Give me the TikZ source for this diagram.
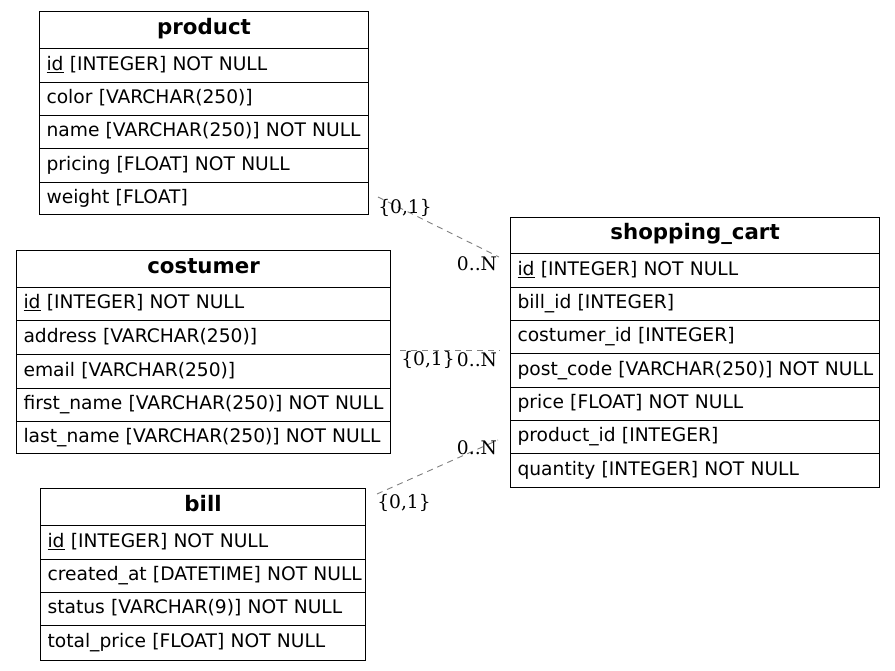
\documentclass[tikz,border=0pt]{standalone}
\usepackage{fontspec}
\setmainfont{DejaVu Sans}
\newfontfamily\labfont{DejaVu Serif}
\begin{document}
\begin{tikzpicture}[x=1pt,y=-1pt]
\tikzset{
  cell/.style={draw, line width=1.1pt, anchor=north west, inner xsep=7pt, inner ysep=0pt,
    align=left, font=\fontsize{18.67}{22}\selectfont, text height=13pt, text depth=4pt},
  head/.style={cell, align=center, font=\fontsize{21.33}{24}\selectfont\bfseries,
    text height=13pt, text depth=5pt},
  rel/.style={draw=gray, line width=0.9pt, dash pattern=on 6pt off 5pt},
  card/.style={font=\labfont\fontsize{18.67}{22}\selectfont, inner sep=0pt}
}
\useasboundingbox (0,0) rectangle (895,670);
\fill[white] (0,0) rectangle (895,670);

% product
\begin{scope}[every node/.append style={minimum width=329pt, text width=315pt}]
\node[head, minimum height=37pt] (product) at (39,11) {product};
\node[cell, minimum height=34pt] (product-id) at (39,48) {\underline{id} [INTEGER] NOT NULL};
\node[cell, minimum height=33pt] (product-color) at (39,82) {color [VARCHAR(250)]};
\node[cell, minimum height=33pt] (product-name) at (39,115) {\mbox{name [VARCHAR(250)] NOT NULL}};
\node[cell, minimum height=34pt] (product-pricing) at (39,148) {pricing [FLOAT] NOT NULL};
\node[cell, minimum height=32pt] (product-weight) at (39,182) {weight [FLOAT]};
\end{scope}

% costumer
\begin{scope}[every node/.append style={minimum width=374pt, text width=360pt}]
\node[head, minimum height=37pt] (costumer) at (16,250) {costumer};
\node[cell, minimum height=33pt] (costumer-id) at (16,287) {\underline{id} [INTEGER] NOT NULL};
\node[cell, minimum height=34pt] (costumer-address) at (16,320) {address [VARCHAR(250)]};
\node[cell, minimum height=34pt] (costumer-email) at (16,354) {email [VARCHAR(250)]};
\node[cell, minimum height=33pt] (costumer-first) at (16,388) {\mbox{first\_name [VARCHAR(250)] NOT NULL}};
\node[cell, minimum height=32pt] (costumer-last) at (16,421) {\mbox{last\_name [VARCHAR(250)] NOT NULL}};
\end{scope}

% bill
\begin{scope}[every node/.append style={minimum width=325pt, text width=311pt}]
\node[head, minimum height=37pt] (bill) at (40,488) {bill};
\node[cell, minimum height=34pt] (bill-id) at (40,525) {\underline{id} [INTEGER] NOT NULL};
\node[cell, minimum height=33pt] (bill-created) at (40,559) {\mbox{created\_at [DATETIME] NOT NULL}};
\node[cell, minimum height=33pt] (bill-status) at (40,592) {status [VARCHAR(9)] NOT NULL};
\node[cell, minimum height=35pt] (bill-total) at (40,625) {total\_price [FLOAT] NOT NULL};
\end{scope}

% shopping_cart
\begin{scope}[every node/.append style={minimum width=369pt, text width=355pt}]
\node[head, minimum height=36pt] (cart) at (510,217) {shopping\_cart};
\node[cell, minimum height=34pt] (cart-id) at (510,253) {\underline{id} [INTEGER] NOT NULL};
\node[cell, minimum height=33pt] (cart-bill) at (510,287) {bill\_id [INTEGER]};
\node[cell, minimum height=33pt] (cart-costumer) at (510,320) {costumer\_id [INTEGER]};
\node[cell, minimum height=34pt] (cart-post) at (510,353) {\mbox{post\_code [VARCHAR(250)] NOT NULL}};
\node[cell, minimum height=33pt] (cart-price) at (510,387) {price [FLOAT] NOT NULL};
\node[cell, minimum height=33pt] (cart-product) at (510,420) {product\_id [INTEGER]};
\node[cell, minimum height=34pt] (cart-quantity) at (510,453) {quantity [INTEGER] NOT NULL};
\end{scope}

% relation end points
\coordinate (p-end) at (378,197);
\coordinate (c1-end) at (499,257);
\coordinate (cu-end) at (400,350);
\coordinate (c2-end) at (500,350);
\coordinate (b-end) at (377,494);
\coordinate (c3-end) at (498,440);

\draw[rel] (p-end) -- (c1-end);
\draw[rel] (cu-end) -- (c2-end);
\draw[rel] (b-end) -- (c3-end);

% cardinalities
\node[card] (l-p1) at (405,208) {\{0,1\}};
\node[card] (l-p2) at (477,264) {0..N};
\node[card] (l-c1) at (428,360) {\{0,1\}};
\node[card] (l-c2) at (477,360) {0..N};
\node[card] (l-b2) at (477,448) {0..N};
\node[card] (l-b1) at (404,503) {\{0,1\}};
\end{tikzpicture}
\end{document}
